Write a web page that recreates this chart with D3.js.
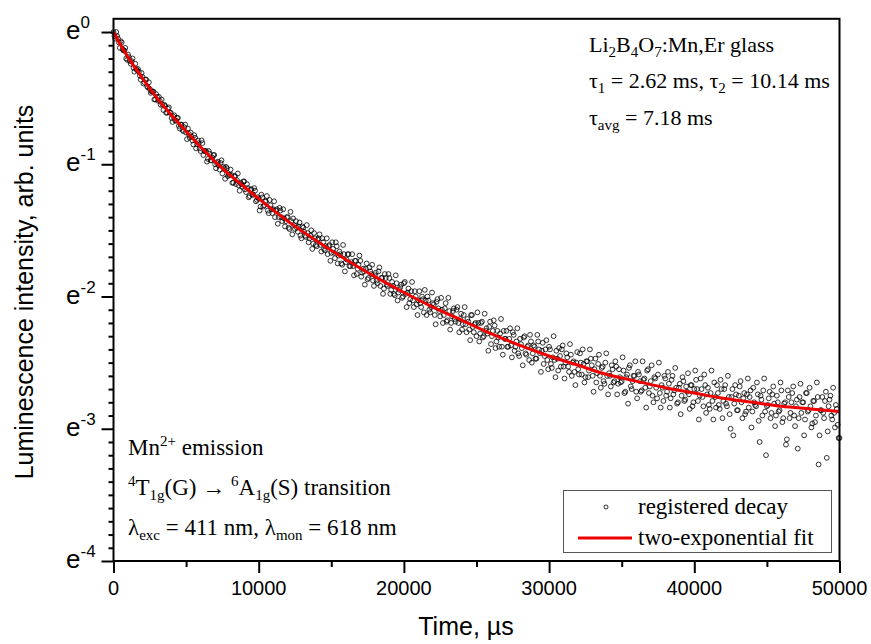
<!DOCTYPE html>
<html>
<head>
<meta charset="utf-8">
<script src="https://cdn.jsdelivr.net/npm/d3@7"></script>
<style>
  body { margin: 0; background: #fff; }
  svg { display: block; }
  .serif { font-family: "Liberation Serif", "Times New Roman", serif; }
  .sans { font-family: "Liberation Sans", Arial, sans-serif; }
</style>
</head>
<body>
<div id="chart"></div>
<script>
// --- data ---
// registered decay: ln(intensity), one point every 62.5 us; the two arrays interleave
const timeStep = 125;
const decayLn = [
  0.00, -0.05, -0.03, -0.08, -0.07, -0.13, -0.14, -0.20,
  -0.17, -0.22, -0.22, -0.27, -0.24, -0.29, -0.30, -0.36,
  -0.34, -0.38, -0.36, -0.42, -0.43, -0.45, -0.45, -0.51,
  -0.49, -0.49, -0.55, -0.55, -0.55, -0.61, -0.58, -0.61,
  -0.65, -0.64, -0.67, -0.65, -0.71, -0.70, -0.74, -0.72,
  -0.76, -0.73, -0.80, -0.79, -0.85, -0.80, -0.85, -0.84,
  -0.90, -0.84, -0.90, -0.90, -0.96, -0.92, -0.97, -0.93,
  -1.00, -0.99, -1.01, -0.99, -1.07, -1.03, -1.02, -1.09,
  -1.08, -1.08, -1.14, -1.09, -1.12, -1.16, -1.14, -1.17,
  -1.13, -1.21, -1.18, -1.24, -1.19, -1.23, -1.20, -1.27,
  -1.26, -1.32, -1.25, -1.31, -1.28, -1.35, -1.27, -1.34,
  -1.34, -1.40, -1.34, -1.40, -1.35, -1.43, -1.41, -1.43,
  -1.40, -1.49, -1.43, -1.41, -1.49, -1.48, -1.47, -1.54,
  -1.47, -1.51, -1.55, -1.52, -1.56, -1.50, -1.60, -1.56,
  -1.62, -1.56, -1.61, -1.56, -1.64, -1.62, -1.68, -1.61,
  -1.67, -1.64, -1.71, -1.62, -1.69, -1.68, -1.76, -1.68,
  -1.74, -1.68, -1.77, -1.74, -1.77, -1.73, -1.83, -1.76,
  -1.73, -1.82, -1.81, -1.79, -1.87, -1.78, -1.83, -1.88,
  -1.84, -1.88, -1.81, -1.92, -1.86, -1.94, -1.86, -1.92,
  -1.86, -1.95, -1.92, -1.99, -1.90, -1.97, -1.93, -2.01,
  -1.90, -1.98, -1.97, -2.05, -1.96, -2.03, -1.96, -2.06,
  -2.03, -2.05, -2.00, -2.12, -2.03, -2.00, -2.10, -2.08,
  -2.05, -2.14, -2.04, -2.09, -2.15, -2.10, -2.14, -2.05,
  -2.18, -2.11, -2.20, -2.11, -2.17, -2.10, -2.20, -2.17,
  -2.25, -2.14, -2.21, -2.17, -2.25, -2.14, -2.23, -2.21,
  -2.30, -2.20, -2.28, -2.19, -2.30, -2.26, -2.28, -2.23,
  -2.36, -2.26, -2.22, -2.34, -2.31, -2.28, -2.38, -2.26,
  -2.32, -2.38, -2.32, -2.37, -2.27, -2.41, -2.34, -2.43,
  -2.32, -2.39, -2.31, -2.43, -2.38, -2.48, -2.34, -2.43,
  -2.38, -2.47, -2.34, -2.43, -2.41, -2.51, -2.40, -2.48,
  -2.38, -2.51, -2.46, -2.48, -2.41, -2.56, -2.45, -2.40,
  -2.53, -2.50, -2.46, -2.57, -2.44, -2.50, -2.57, -2.50,
  -2.55, -2.43, -2.59, -2.51, -2.61, -2.49, -2.56, -2.47,
  -2.60, -2.55, -2.65, -2.51, -2.60, -2.54, -2.64, -2.50,
  -2.60, -2.58, -2.68, -2.55, -2.64, -2.53, -2.66, -2.61,
  -2.64, -2.56, -2.72, -2.59, -2.54, -2.68, -2.64, -2.60,
  -2.72, -2.57, -2.64, -2.71, -2.63, -2.69, -2.56, -2.73,
  -2.64, -2.75, -2.61, -2.69, -2.59, -2.73, -2.67, -2.79,
  -2.62, -2.72, -2.66, -2.77, -2.60, -2.71, -2.69, -2.80,
  -2.66, -2.75, -2.64, -2.78, -2.72, -2.74, -2.67, -2.83,
  -2.70, -2.63, -2.79, -2.75, -2.70, -2.83, -2.67, -2.74,
  -2.82, -2.73, -2.79, -2.65, -2.84, -2.73, -2.85, -2.70,
  -2.79, -2.67, -2.83, -2.76, -3.00, -2.70, -2.81, -2.74,
  -2.86, -2.68, -2.80, -2.77, -2.89, -2.74, -2.84, -2.71,
  -2.87, -2.80, -2.83, -2.74, -3.10, -2.78, -2.71, -2.87,
  -2.83, -2.77, -2.92, -2.74, -2.81, -2.90, -2.80, -2.86,
  -2.71, -2.92, -2.80, -3.08, -2.76, -2.88, -2.73, -2.90,
  -2.83, -3.15, -2.76, -2.88, -2.80, -2.93, -2.73, -2.86,
  -2.83, -2.96, -2.79, -2.90, -2.76, -3.05, -2.86, -2.88,
  -2.79, -3.22, -2.83, -2.75, -2.93, -2.88, -2.82, -2.97,
  -3.07
];
// the in-between samples (62.5 us + i * 125 us)
const decayLnB = [
  -0.03, 0.00, -0.05, -0.12, -0.08, -0.14, -0.12, -0.21,
  -0.19, -0.24, -0.20, -0.30, -0.28, -0.28, -0.33, -0.31,
  -0.39, -0.36, -0.41, -0.38, -0.46, -0.45, -0.51, -0.47,
  -0.52, -0.52, -0.51, -0.59, -0.56, -0.61, -0.57, -0.61,
  -0.68, -0.63, -0.67, -0.65, -0.73, -0.70, -0.75, -0.70,
  -0.81, -0.77, -0.76, -0.82, -0.78, -0.88, -0.82, -0.88,
  -0.82, -0.93, -0.90, -0.98, -0.90, -0.97, -0.95, -0.93,
  -1.03, -0.98, -1.04, -0.97, -1.02, -1.11, -1.03, -1.08,
  -1.04, -1.14, -1.09, -1.15, -1.07, -1.20, -1.15, -1.13,
  -1.19, -1.15, -1.25, -1.19, -1.23, -1.18, -1.28, -1.25,
  -1.35, -1.23, -1.32, -1.28, -1.24, -1.37, -1.31, -1.37,
  -1.28, -1.35, -1.45, -1.33, -1.40, -1.34, -1.47, -1.40,
  -1.48, -1.36, -1.53, -1.46, -1.43, -1.51, -1.44, -1.56,
  -1.48, -1.54, -1.46, -1.59, -1.54, -1.64, -1.52, -1.61,
  -1.57, -1.53, -1.66, -1.59, -1.65, -1.56, -1.62, -1.73,
  -1.59, -1.67, -1.59, -1.75, -1.66, -1.75, -1.61, -1.81,
  -1.72, -1.68, -1.77, -1.68, -1.84, -1.73, -1.79, -1.69,
  -1.85, -1.79, -1.91, -1.75, -1.86, -1.81, -1.76, -1.92,
  -1.82, -1.90, -1.78, -1.86, -1.98, -1.83, -1.91, -1.83,
  -1.98, -1.89, -1.98, -1.84, -2.03, -1.95, -1.91, -2.00,
  -1.89, -2.08, -1.94, -2.02, -1.89, -2.08, -2.00, -2.14,
  -1.96, -2.08, -2.02, -1.95, -2.14, -2.03, -2.12, -1.97,
  -2.06, -2.21, -2.02, -2.11, -2.01, -2.20, -2.09, -2.19,
  -2.01, -2.25, -2.15, -2.09, -2.19, -2.08, -2.27, -2.13,
  -2.21, -2.08, -2.27, -2.19, -2.33, -2.14, -2.27, -2.20,
  -2.12, -2.34, -2.20, -2.31, -2.13, -2.24, -2.41, -2.19,
  -2.30, -2.18, -2.39, -2.26, -2.38, -2.17, -2.44, -2.32,
  -2.26, -2.38, -2.24, -2.46, -2.29, -2.38, -2.24, -2.45,
  -2.36, -2.52, -2.30, -2.44, -2.37, -2.29, -2.50, -2.37,
  -2.47, -2.29, -2.40, -2.57, -2.35, -2.45, -2.33, -2.55,
  -2.40, -2.54, -2.30, -2.61, -2.47, -2.39, -2.53, -2.37,
  -2.62, -2.43, -2.53, -2.36, -2.60, -2.49, -2.67, -2.42,
  -2.59, -2.50, -2.40, -2.65, -2.49, -2.61, -2.40, -2.52,
  -2.72, -2.47, -2.58, -2.44, -2.69, -2.53, -2.66, -2.43,
  -2.74, -2.60, -2.52, -2.65, -2.49, -2.74, -2.55, -2.65,
  -2.46, -2.73, -2.61, -2.81, -2.52, -2.70, -2.60, -2.49,
  -2.77, -2.59, -2.72, -2.49, -2.62, -2.84, -2.55, -2.68,
  -2.52, -2.80, -2.62, -2.77, -2.50, -2.84, -2.69, -2.60,
  -2.75, -2.57, -2.84, -2.63, -2.74, -2.54, -2.81, -2.69,
  -2.89, -2.61, -2.79, -2.68, -2.58, -2.85, -2.67, -2.80,
  -2.56, -2.70, -2.93, -2.62, -2.76, -2.59, -2.88, -2.69,
  -2.85, -2.56, -2.93, -2.76, -2.67, -2.82, -2.63, -2.92,
  -2.70, -2.81, -2.60, -2.89, -2.76, -3.05, -2.67, -2.86,
  -2.75, -2.64, -2.92, -2.73, -2.87, -2.62, -2.76, -2.99,
  -2.69, -2.82, -2.65, -2.94, -2.75, -2.90, -2.62, -3.20,
  -2.82, -2.72, -2.88, -2.68, -2.98, -2.75, -2.87, -2.65,
  -2.95, -2.81, -3.12, -2.71, -2.92, -2.80, -2.68, -2.98,
  -2.78, -2.92, -2.66, -2.80, -3.05, -2.73, -2.87, -2.69,
  -2.99, -2.79, -2.95, -2.65, -3.27, -2.86, -2.76, -2.92,
  -2.72, -3.02, -2.78, -2.90, -2.69, -2.99, -2.85, -3.07
];

// two-exponential fit, read as (time us, ln intensity)
const fitTime = [0, 500, 1000, 2000, 3000, 4000, 5000, 6000, 7000, 8000, 9000, 10000,
  12000, 14000, 16000, 18000, 20000, 22000, 24000, 26000, 28000, 30000,
  32000, 34000, 36000, 38000, 40000, 42000, 44000, 46000, 48000, 50000];
const fitLn = [0, -0.10, -0.19, -0.35, -0.50, -0.63, -0.75, -0.87, -0.98, -1.08, -1.17, -1.26,
  -1.43, -1.58, -1.72, -1.85, -1.97, -2.08, -2.18, -2.28, -2.37, -2.45,
  -2.52, -2.59, -2.64, -2.69, -2.73, -2.77, -2.80, -2.83, -2.85, -2.87];

const xTicks = [0, 10000, 20000, 30000, 40000, 50000];
const yTicks = [-4, -3, -2, -1, 0];

const width = 871;
const height = 644;

const svg = d3.select("#chart").append("svg")
  .attr("width", width)
  .attr("height", height);

// scales: y works on ln(intensity), so the axis is a base-e log axis
const x = d3.scaleLinear().domain([0, 50000]).range([113.5, 839.5]);
const y = d3.scaleLinear().domain([-4, 0.1]).range([561, 18.8]);

// minor tick values
const xMinor = d3.range(5000, 50000, 10000);
const yMinor = d3.range(-40, 1).map(d => d / 10).filter(d => !Number.isInteger(d));

// --- axes ---
const axisStyle = g => {
  g.selectAll("line").attr("stroke", "#000").attr("stroke-width", 2);
  g.select(".domain").remove();
};

svg.append("g")
  .attr("transform", `translate(0,${y(-4)})`)
  .call(d3.axisBottom(x).tickValues(xTicks).tickSize(12).tickSizeOuter(0).tickFormat(""))
  .call(axisStyle);
svg.append("g")
  .attr("transform", `translate(0,${y(-4)})`)
  .call(d3.axisBottom(x).tickValues(xMinor).tickSize(6).tickSizeOuter(0).tickFormat(""))
  .call(axisStyle);
svg.append("g")
  .attr("transform", `translate(${x(0)},0)`)
  .call(d3.axisLeft(y).tickValues(yTicks).tickSize(12).tickSizeOuter(0).tickFormat(""))
  .call(axisStyle);
svg.append("g")
  .attr("transform", `translate(${x(0)},0)`)
  .call(d3.axisLeft(y).tickValues(yMinor).tickSize(5).tickSizeOuter(0).tickFormat(""))
  .call(axisStyle);

// x tick labels
svg.append("g").selectAll("text")
  .data(xTicks)
  .join("text")
  .attr("class", "sans")
  .attr("x", d => x(d))
  .attr("y", 595)
  .attr("text-anchor", "middle")
  .attr("font-size", 20)
  .text(d => d);

// y tick labels: e^n
const yLab = svg.append("g").selectAll("text")
  .data(yTicks)
  .join("text")
  .attr("class", "sans")
  .attr("x", 66)
  .attr("y", d => y(d) + 7)
  .attr("font-size", 26);
yLab.append("tspan").text("e");
yLab.append("tspan")
  .attr("font-size", 17)
  .attr("dy", -11)
  .text(d => d === 0 ? "0" : "-" + Math.abs(d));

// axis titles
svg.append("text")
  .attr("class", "sans")
  .attr("x", 466)
  .attr("y", 635)
  .attr("text-anchor", "middle")
  .attr("font-size", 25)
  .text("Time, \u00b5s");

svg.append("text")
  .attr("class", "sans")
  .attr("transform", "translate(33,292) rotate(-90)")
  .attr("text-anchor", "middle")
  .attr("font-size", 25)
  .text("Luminescence intensity, arb. units");

// --- data marks ---
const points = decayLn.map((v, i) => [i * timeStep, v])
  .concat(decayLnB.map((v, i) => [i * timeStep + timeStep / 2, v]));

svg.append("g")
  .selectAll("circle")
  .data(points)
  .join("circle")
  .attr("cx", d => x(d[0]))
  .attr("cy", d => y(d[1]))
  .attr("r", 2.4)
  .attr("fill", "none")
  .attr("stroke", "#000")
  .attr("stroke-width", 0.8);

const line = d3.line()
  .x(d => x(d[0]))
  .y(d => y(d[1]))
  .curve(d3.curveMonotoneX);

svg.append("path")
  .datum(fitTime.map((t, i) => [t, fitLn[i]]))
  .attr("d", line)
  .attr("fill", "none")
  .attr("stroke", "#ee0000")
  .attr("stroke-width", 3);

// frame
svg.append("rect")
  .attr("x", x(0))
  .attr("y", y(0.1))
  .attr("width", x(50000) - x(0))
  .attr("height", y(-4) - y(0.1))
  .attr("fill", "none")
  .attr("stroke", "#000")
  .attr("stroke-width", 2);

// --- annotations ---
function richLine(parent, xPos, yPos, size, parts) {
  const t = parent.append("text")
    .attr("class", "serif")
    .attr("x", xPos)
    .attr("y", yPos)
    .attr("font-size", size);
  parts.forEach(p => {
    const s = t.append("tspan").text(p[0]);
    if (p[1] === "sub") s.attr("font-size", 15).attr("dy", 5);
    if (p[1] === "sup") s.attr("font-size", 15).attr("dy", -9);
    if (p[1] === "back") s.attr("dy", p[2]);
  });
  return t;
}

const notes = svg.append("g");
richLine(notes, 589, 52, 22, [["Li"], ["2", "sub"], ["B", "back", -5], ["4", "sub"], ["O", "back", -5], ["7", "sub"], [":Mn,Er glass", "back", -5]]);
richLine(notes, 589, 88, 22, [["\u03c4"], ["1", "sub"], [" = 2.62 ms, \u03c4", "back", -5], ["2", "sub"], [" = 10.14 ms", "back", -5]]);
richLine(notes, 589, 125, 22, [["\u03c4"], ["avg", "sub"], [" = 7.18 ms", "back", -5]]);

richLine(notes, 128, 455, 23, [["Mn"], ["2+", "sup"], [" emission", "back", 9]]);
richLine(notes, 128, 495, 23, [["4", "sup"], ["T", "back", 9], ["1g", "sub"], ["(G) \u2192 ", "back", -5], ["6", "sup"], ["A", "back", 9], ["1g", "sub"], ["(S) transition", "back", -5]]);
richLine(notes, 128, 535, 23, [["\u03bb"], ["exc", "sub"], [" = 411 nm, \u03bb", "back", -5], ["mon", "sub"], [" = 618 nm", "back", -5]]);

// --- legend ---
const legend = svg.append("g");
legend.append("rect")
  .attr("x", 563.5).attr("y", 490.5)
  .attr("width", 268).attr("height", 62)
  .attr("fill", "#fff")
  .attr("stroke", "#555")
  .attr("stroke-width", 1);
legend.append("circle")
  .attr("cx", 606).attr("cy", 507).attr("r", 2)
  .attr("fill", "none").attr("stroke", "#000").attr("stroke-width", 0.8);
legend.append("line")
  .attr("x1", 578).attr("x2", 632).attr("y1", 538).attr("y2", 538)
  .attr("stroke", "#ee0000").attr("stroke-width", 3);
legend.append("text").attr("class", "serif").attr("x", 638).attr("y", 514)
  .attr("font-size", 23).text("registered decay");
legend.append("text").attr("class", "serif").attr("x", 638).attr("y", 545)
  .attr("font-size", 23).text("two-exponential fit");
</script>
</body>
</html>
